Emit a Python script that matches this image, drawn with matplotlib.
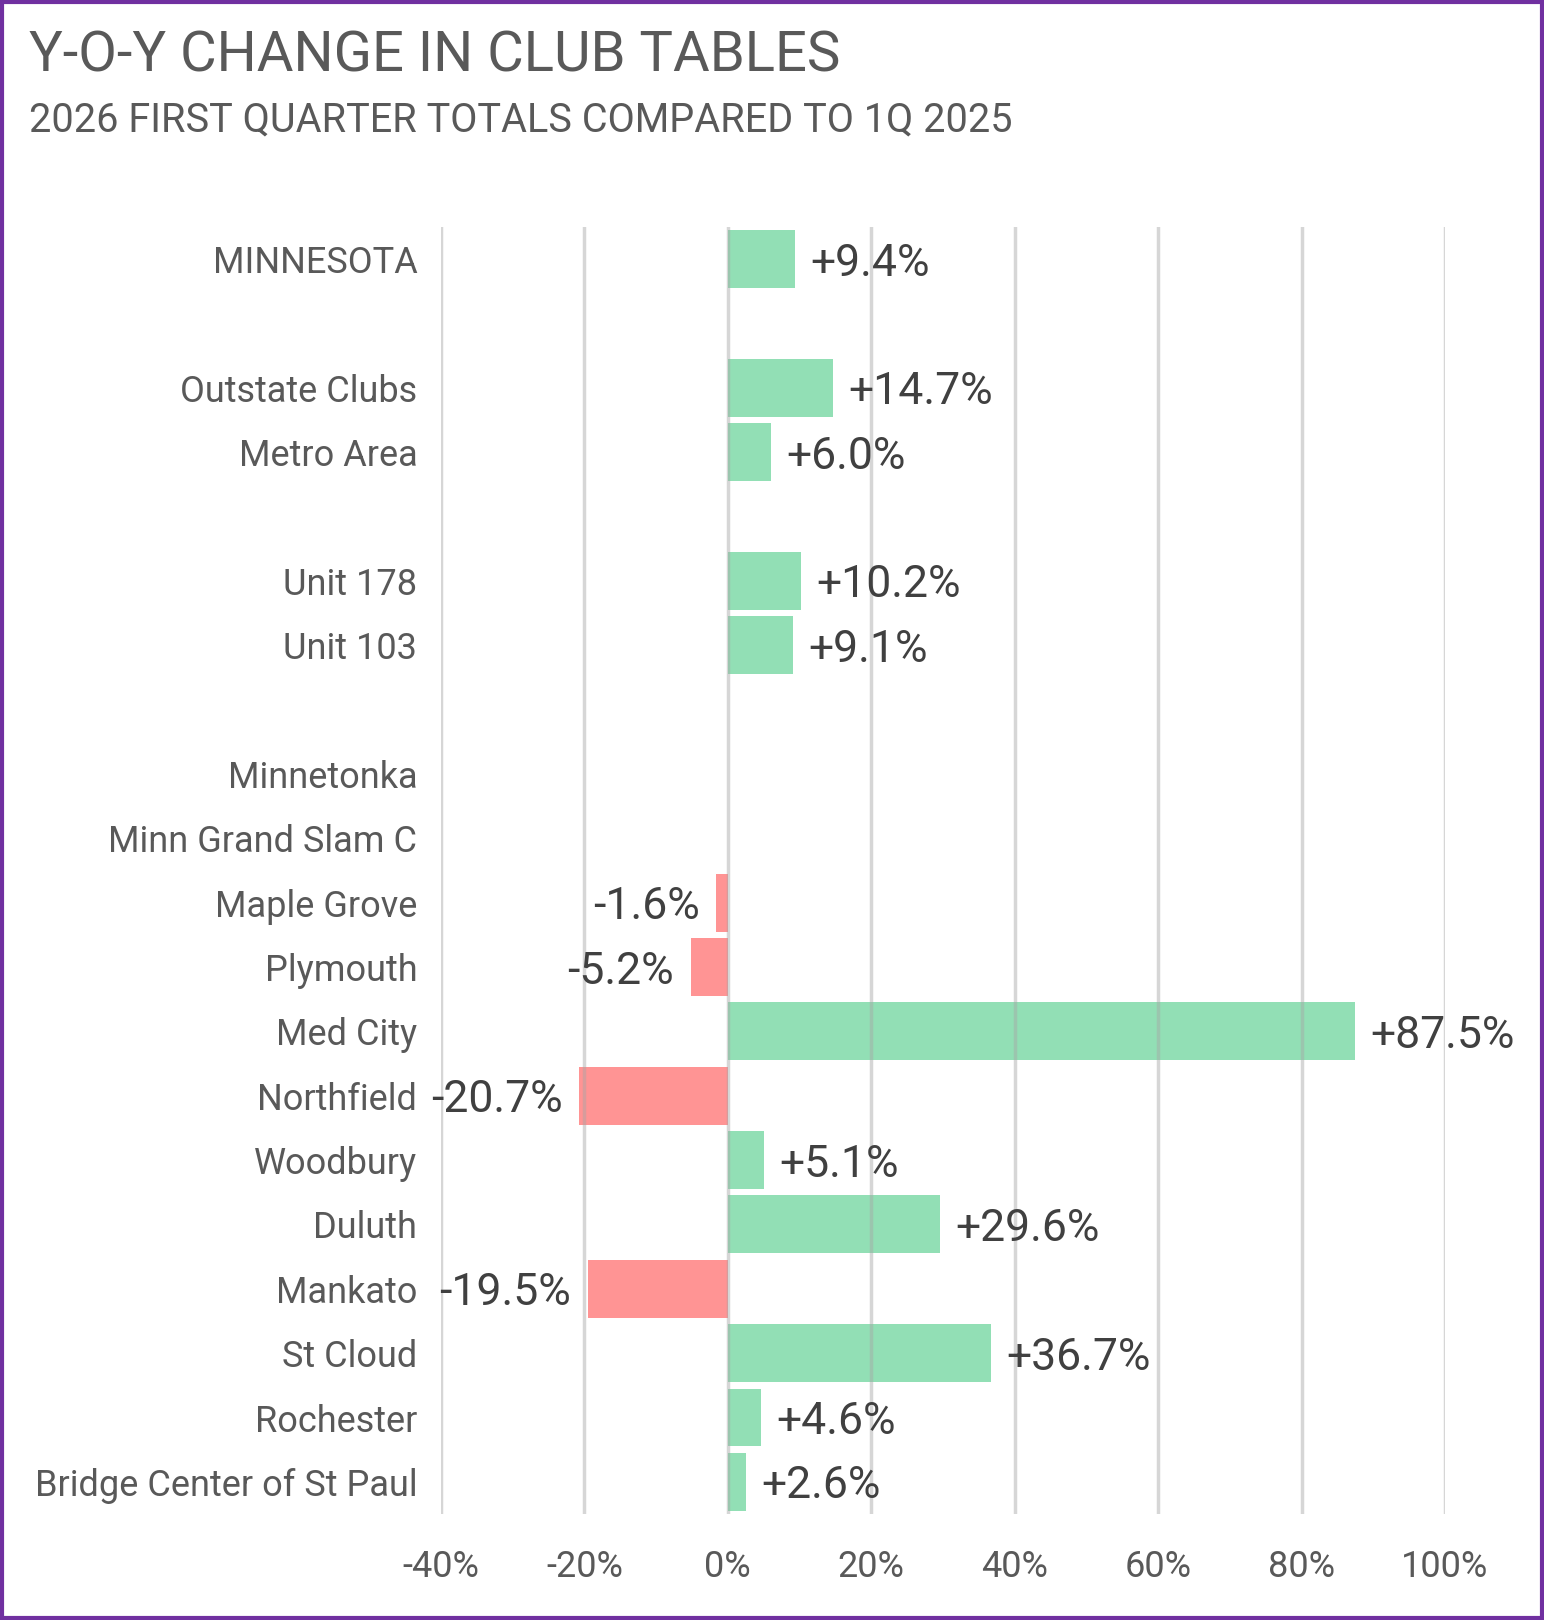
import matplotlib as mpl
mpl.use("Agg")
import matplotlib.pyplot as plt
import numpy as np
from matplotlib.patches import Rectangle

clubs = ["MINNESOTA", "", "Outstate Clubs", "Metro Area", "", "Unit 178", "Unit 103", "",
         "Minnetonka", "Minn Grand Slam C", "Maple Grove", "Plymouth", "Med City",
         "Northfield", "Woodbury", "Duluth", "Mankato", "St Cloud", "Rochester",
         "Bridge Center of St Paul"]
change = [9.4, np.nan, 14.7, 6.0, np.nan, 10.2, 9.1, np.nan,
          np.nan, np.nan, -1.6, -5.2, 87.5,
          -20.7, 5.1, 29.6, -19.5, 36.7, 4.6, 2.6]
ticks = [-40, -20, 0, 20, 40, 60, 80, 100]

plt.rcParams['font.family'] = ['Roboto', 'DejaVu Sans']

fig = plt.figure(figsize=(15.44, 16.2), dpi=100)
ax = fig.add_axes([0.2856, 0.0654, 0.6503, 0.7945])

y = np.arange(len(clubs))
vals = np.array(change)
colors = ['#92DFB5' if v >= 0 else '#FF9494' for v in np.nan_to_num(vals)]
ax.barh(y, np.nan_to_num(vals), height=0.9, color=colors, zorder=1)

for t in ticks:
    ax.axvline(t, color='#a6a6a6', alpha=0.45, lw=2.5, zorder=2)

for yi, v in zip(y, vals):
    if np.isnan(v):
        continue
    if v >= 0:
        ax.annotate(f"+{v:.1f}%", (v, yi), xytext=(11, 0), textcoords='offset points',
                    ha='left', va='center_baseline', fontsize=32, color='#404040', zorder=3)
    else:
        ax.annotate(f"{v:.1f}%", (v, yi), xytext=(-12, 0), textcoords='offset points',
                    ha='right', va='center_baseline', fontsize=32, color='#404040', zorder=3)

ax.set_xlim(-40, 100)
ax.set_ylim(len(clubs) - 0.5, -0.5)
ax.set_yticks(y)
ax.set_yticklabels(clubs, fontsize=26, color='#595959')
ax.set_xticks(ticks)
ax.set_xticklabels([f"{t}%" for t in ticks], fontsize=26, color='#595959')
ax.tick_params(axis='both', length=0)
ax.tick_params(axis='x', pad=25)
ax.tick_params(axis='y', pad=17)
for s in ax.spines.values():
    s.set_visible(False)

fig.text(0.0188, 1 - 72 / 1620, "Y-O-Y CHANGE IN CLUB TABLES", fontsize=40.5,
         color='#595959', ha='left', va='baseline')
fig.text(0.0188, 1 - 132 / 1620, "2026 FIRST QUARTER TOTALS COMPARED TO 1Q 2025", fontsize=28.5,
         color='#595959', ha='left', va='baseline')

fig.patches.append(Rectangle((0.001, 0.001), 0.998, 0.998, transform=fig.transFigure,
                             fill=False, edgecolor='#7030A0', lw=3))

fig.savefig("out.png", dpi=100)
